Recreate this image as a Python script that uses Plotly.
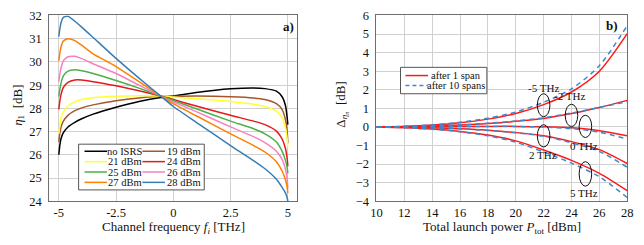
import plotly.graph_objects as go

# ---------------- data: left panel (eta_1 vs channel frequency) ----------------
freq = [-5, -4.95, -4.9, -4.8, -4.6, -4.3, -4.0, -3.5, -2.5, -1.5, -0.55, 0, 1, 2.5, 3.5, 4, 4.5, 4.75, 4.9, 4.97, 5]
eta_noisrs = [26.0, 26.45, 26.7, 26.95, 27.2, 27.4, 27.55, 27.75, 28.05, 28.3, 28.47, 28.53, 28.68, 28.84, 28.88, 28.85, 28.74, 28.5, 28.1, 27.6, 27.3]
eta_19 = [26.55, 26.95, 27.2, 27.45, 27.7, 27.9, 28.02, 28.15, 28.33, 28.45, 28.52, 28.52, 28.53, 28.5, 28.45, 28.38, 28.2, 27.95, 27.5, 27.0, 26.5]
eta_21 = [26.9, 27.3, 27.6, 27.85, 28.1, 28.28, 28.38, 28.46, 28.52, 28.54, 28.53, 28.49, 28.41, 28.3, 28.18, 28.08, 27.88, 27.6, 27.15, 26.7, 26.35]
eta_24 = [27.95, 28.35, 28.6, 28.9, 29.12, 29.22, 29.22, 29.15, 28.97, 28.76, 28.53, 28.38, 28.1, 27.7, 27.45, 27.3, 27.02, 26.68, 26.25, 25.85, 25.5]
eta_25 = [28.5, 28.85, 29.1, 29.4, 29.6, 29.66, 29.62, 29.5, 29.2, 28.87, 28.53, 28.34, 27.98, 27.45, 27.12, 26.9, 26.55, 26.15, 25.75, 25.45, 25.2]
eta_26 = [29.15, 29.5, 29.75, 30.05, 30.22, 30.24, 30.14, 29.92, 29.5, 29.0, 28.53, 28.28, 27.86, 27.2, 26.78, 26.52, 26.15, 25.8, 25.35, 24.95, 24.55]
eta_27 = [30.05, 30.4, 30.65, 30.9, 31.0, 30.92, 30.72, 30.35, 29.8, 29.15, 28.53, 28.2, 27.68, 26.9, 26.4, 26.12, 25.7, 25.3, 24.9, 24.6, 24.35]
eta_28 = [31.09, 31.45, 31.7, 31.92, 31.97, 31.75, 31.5, 31.05, 30.15, 29.3, 28.53, 28.08, 27.4, 26.4, 25.75, 25.4, 24.95, 24.6, 24.35, 24.15, 24.0]

left_names = ["no ISRS", "19 dBm", "21 dBm", "24 dBm", "25 dBm", "26 dBm", "27 dBm", "28 dBm"]
left_series = [eta_noisrs, eta_19, eta_21, eta_24, eta_25, eta_26, eta_27, eta_28]
left_colors = ["#000000", "#a65628", "#ffff33", "#e41a1c", "#4daf4a", "#f781bf", "#ff7f00", "#377eb8"]

left_xticks = [-5, -2.5, 0, 2.5, 5]
left_xticklabels = ["-5", "-2.5", "0", "2.5", "5"]
left_yticks = [24, 25, 26, 27, 28, 29, 30, 31, 32]

# ---------------- data: right panel (delta eta vs launch power) ----------------
power = [10, 12, 14, 16, 18, 20, 22, 24, 26, 28]
d1_m5 = [0, 0.03, 0.1, 0.22, 0.42, 0.72, 1.2, 1.88, 3.0, 5.02]
d10_m5 = [0, 0.03, 0.11, 0.25, 0.47, 0.8, 1.33, 2.05, 3.3, 5.45]
d1_m2 = [0, 0.02, 0.05, 0.1, 0.18, 0.3, 0.46, 0.72, 1.05, 1.43]
d10_m2 = [0, 0.02, 0.06, 0.11, 0.2, 0.32, 0.49, 0.75, 1.05, 1.36]
d1_0 = [0, 0.0, 0.01, 0.02, 0.03, 0.03, 0.01, -0.05, -0.2, -0.47]
d10_0 = [0, 0.0, 0.01, 0.02, 0.03, 0.02, -0.01, -0.09, -0.28, -0.65]
d1_p2 = [0, -0.02, -0.05, -0.1, -0.18, -0.3, -0.47, -0.79, -1.22, -1.97]
d10_p2 = [0, -0.02, -0.05, -0.1, -0.19, -0.32, -0.5, -0.85, -1.32, -2.17]
d1_p5 = [0, -0.04, -0.11, -0.24, -0.44, -0.75, -1.24, -1.8, -2.5, -3.43]
d10_p5 = [0, -0.04, -0.12, -0.26, -0.48, -0.82, -1.35, -1.95, -2.68, -3.8]

span1_series = [d1_m5, d1_m2, d1_0, d1_p2, d1_p5]
span10_series = [d10_m5, d10_m2, d10_0, d10_p2, d10_p5]
right_names = ["after 1 span", "after 10 spans"]
right_xticks = [10, 12, 14, 16, 18, 20, 22, 24, 26, 28]
right_yticks = [-4, -3, -2, -1, 0, 1, 2, 3, 4, 5, 6]

# ---------------- figure ----------------
W, H = 644, 245
FONT = "Liberation Serif, Times New Roman, serif"
RED = "#ff1a1a"
BLUE = "#3f88c9"

def px(x):
    return x / W

def py(y):
    return 1 - y / H

fig = go.Figure()

for name, ys, col in zip(left_names, left_series, left_colors):
    fig.add_trace(go.Scatter(x=freq, y=ys, mode="lines", name=name,
                             line=dict(color=col, width=1.5, shape="spline", smoothing=0.6),
                             xaxis="x", yaxis="y", showlegend=False))

for ys in span1_series:
    fig.add_trace(go.Scatter(x=power, y=ys, mode="lines", name=right_names[0],
                             line=dict(color=RED, width=1.5, shape="spline", smoothing=0.8),
                             xaxis="x2", yaxis="y2", showlegend=False))
for ys in span10_series:
    fig.add_trace(go.Scatter(x=power, y=ys, mode="lines", name=right_names[1],
                             line=dict(color=BLUE, width=1.5, dash="5px,4px", shape="spline", smoothing=0.8),
                             xaxis="x2", yaxis="y2", showlegend=False))

axis_common = dict(showgrid=True, gridcolor="#d0d0d0", gridwidth=1, zeroline=False,
                   showline=True, linecolor="#6e6e6e", linewidth=1, mirror=True,
                   ticks="", ticklabeloverflow="allow",
                   tickfont=dict(family=FONT, size=12.5, color="#111"))
ydom = [1 - 206 / H, 1 - 9 / H]

fig.update_layout(
    width=W, height=H, margin=dict(l=0, r=0, t=0, b=0),
    paper_bgcolor="white", plot_bgcolor="white",
    font=dict(family=FONT, color="#111"),
    xaxis=dict(domain=[44 / W, 297 / W], range=[-5.42, 5.42], tickvals=left_xticks,
               ticktext=left_xticklabels, anchor="y", **axis_common),
    yaxis=dict(domain=ydom, range=[24, 32], tickvals=left_yticks, anchor="x",
               ticklabelstandoff=4, **axis_common),
    xaxis2=dict(domain=[377.5 / W, 633 / W], range=[10, 28], tickvals=right_xticks,
                anchor="y2", **axis_common),
    yaxis2=dict(domain=ydom, range=[-4, 6], tickvals=right_yticks, anchor="x2",
                ticklabelstandoff=4, **axis_common),
)

shapes = []
ann = []

# --- left legend (manual, 2 columns) ---
shapes.append(dict(type="rect", xref="paper", yref="paper", x0=px(74), x1=px(202), y0=py(194), y1=py(145.5),
                   fillcolor="white", line=dict(color="#555", width=1), layer="above"))
rows_y = [153, 164, 175, 186]
for i, (name, col) in enumerate(zip(left_names, left_colors)):
    r, c = divmod(i, 2)
    lx0, lx1, tx = (80, 103, 121) if c == 0 else (139, 162, 181)
    yy = rows_y[r]
    shapes.append(dict(type="line", xref="paper", yref="paper", x0=px(lx0), x1=px(lx1), y0=py(yy), y1=py(yy),
                       line=dict(color=col, width=1.5), layer="above"))
    ann.append(dict(xref="paper", yref="paper", x=px(tx), y=py(yy), text=name, showarrow=False,
                    xanchor="center", yanchor="middle", font=dict(family=FONT, size=10.5, color="#111")))

# --- right legend ---
shapes.append(dict(type="rect", xref="paper", yref="paper", x0=px(402), x1=px(490), y0=py(92), y1=py(64),
                   fillcolor="white", line=dict(color="#555", width=1), layer="above"))
for yy, col, dash, name in [(72.7, RED, "solid", right_names[0]), (83.3, BLUE, "4px,3px", right_names[1])]:
    shapes.append(dict(type="line", xref="paper", yref="paper", x0=px(407), x1=px(430), y0=py(yy), y1=py(yy),
                       line=dict(color=col, width=1.5, dash=dash), layer="above"))
    ann.append(dict(xref="paper", yref="paper", x=px(459), y=py(yy), text=name, showarrow=False,
                    xanchor="center", yanchor="middle", font=dict(family=FONT, size=10.5, color="#111")))

# --- ellipses on right panel ---
ellipses = [(22, 1.17, 0.45, 0.62), (24, 0.62, 0.45, 0.6), (25, 0.03, 0.45, 0.6),
            (22, -0.48, 0.45, 0.6), (25, -2.53, 0.45, 0.66)]
for cx, cy, rx, ry in ellipses:
    shapes.append(dict(type="circle", xref="x2", yref="y2", x0=cx - rx, x1=cx + rx, y0=cy - ry, y1=cy + ry,
                       line=dict(color="#111", width=1), layer="above"))

labels = [("-5 THz", 21.97, 2.12), ("-2 THz", 23.85, 1.64), ("0 THz", 24.93, -1.04),
          ("2 THz", 21.98, -1.52), ("5 THz", 24.9, -3.56)]
for t, x, y in labels:
    ann.append(dict(xref="x2", yref="y2", x=x, y=y, text=t, showarrow=False,
                    xanchor="center", yanchor="middle", font=dict(family=FONT, size=11, color="#111")))

# --- panel tags ---
ann.append(dict(xref="paper", yref="paper", x=px(295), y=py(20.5), text="<b>a)</b>", showarrow=False,
                xanchor="right", yanchor="middle", font=dict(family=FONT, size=13, color="#111")))
ann.append(dict(xref="paper", yref="paper", x=px(626), y=py(19.5), text="<b>b)</b>", showarrow=False,
                xanchor="right", yanchor="middle", font=dict(family=FONT, size=13, color="#111")))

# --- axis titles ---
ann.append(dict(xref="paper", yref="paper", x=px(170.5), y=py(234), text="Channel frequency <i>f<sub>i</sub></i> [THz]",
                showarrow=False, xanchor="center", yanchor="middle", font=dict(family=FONT, size=13, color="#111")))
ann.append(dict(xref="paper", yref="paper", x=px(505), y=py(234), text="Total launch power <i>P</i><sub>tot</sub> [dBm]",
                showarrow=False, xanchor="center", yanchor="middle", font=dict(family=FONT, size=13, color="#111")))
ann.append(dict(xref="paper", yref="paper", x=px(12), y=py(104), text="<i>η</i><sub>1</sub>  [dB]", textangle=-90,
                showarrow=False, xanchor="center", yanchor="middle", font=dict(family=FONT, size=13, color="#111")))
ann.append(dict(xref="paper", yref="paper", x=px(342), y=py(104), text="Δ<sub><i>η</i><sub><i>n</i></sub></sub>  [dB]", textangle=-90,
                showarrow=False, xanchor="center", yanchor="middle", font=dict(family=FONT, size=13, color="#111")))

fig.update_layout(shapes=shapes, annotations=ann)
fig.write_html("out.html", config={"displayModeBar": False},
               post_script="document.body.style.margin='0';document.body.style.padding='0';document.body.style.overflow='hidden';")
